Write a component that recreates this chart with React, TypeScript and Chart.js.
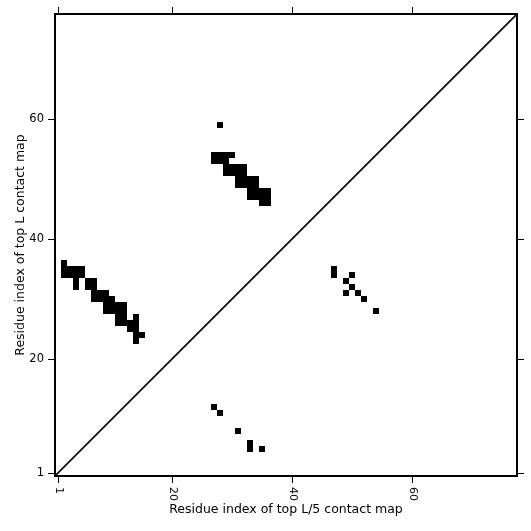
import React, { useEffect, useRef } from "react";
import { Chart, registerables } from "chart.js";

Chart.register(...registerables);

// Residue index range (1..L)
const residueCount = 77;
const tickValues = [1, 20, 40, 60];
const tickLabels = ["1", "20", "40", "60"];

const xTitle = "Residue index of top L/5 contact map";
const yTitle = "Residue index of top L contact map";

// Contacts above the diagonal (top L contact map): [x, y]
const topLContacts: [number, number][] = [
  [2, 36],
  [2, 35], [3, 35], [4, 35], [5, 35],
  [2, 34], [3, 34], [4, 34], [5, 34],
  [4, 33], [6, 33], [7, 33],
  [4, 32], [6, 32], [7, 32],
  [7, 31], [8, 31], [9, 31],
  [7, 30], [8, 30], [9, 30], [10, 30],
  [9, 29], [10, 29], [11, 29], [12, 29],
  [9, 28], [10, 28], [11, 28], [12, 28],
  [11, 27], [12, 27], [14, 27],
  [11, 26], [12, 26], [13, 26], [14, 26],
  [13, 25], [14, 25],
  [14, 24], [15, 24],
  [14, 23],
  [28, 59],
  [27, 54], [28, 54], [29, 54], [30, 54],
  [27, 53], [28, 53], [29, 53],
  [29, 52], [30, 52], [31, 52], [32, 52],
  [29, 51], [30, 51], [31, 51], [32, 51],
  [31, 50], [32, 50], [33, 50], [34, 50],
  [31, 49], [32, 49], [33, 49], [34, 49],
  [33, 48], [34, 48], [35, 48], [36, 48],
  [33, 47], [34, 47], [35, 47], [36, 47],
  [35, 46], [36, 46],
];

// Contacts below the diagonal (top L/5 contact map): [x, y]
const topL5Contacts: [number, number][] = [
  [47, 35], [47, 34], [50, 34], [49, 33], [50, 32],
  [49, 31], [51, 31], [52, 30], [54, 28],
  [27, 12], [28, 11], [31, 8], [33, 6], [33, 5], [35, 5],
];

const FONT = "'DejaVu Sans', 'Liberation Sans', sans-serif";

export default function App() {
  const ref = useRef<HTMLCanvasElement | null>(null);

  useEffect(() => {
    document.body.style.margin = "0";
    const canvas = ref.current;
    if (!canvas) return;

    const cellRadius = (ctx: any) => {
      const s = ctx.chart.scales.x;
      if (!s) return 4;
      return Math.abs(s.getPixelForValue(1) - s.getPixelForValue(0)) / Math.SQRT2;
    };

    const setTicks = (scale: any) => {
      scale.ticks = tickValues.map((v) => ({ value: v }));
    };

    const lo = 0.5;
    const hi = residueCount + 0.5;

    const rotatedXLabels = {
      id: "rotatedXLabels",
      afterDraw(chart: any) {
        const c = chart.ctx;
        const s = chart.scales.x;
        c.save();
        c.fillStyle = "#000";
        c.font = `11px ${FONT}`;
        c.textAlign = "left";
        c.textBaseline = "middle";
        tickValues.forEach((v, k) => {
          const px = s.getPixelForValue(v);
          c.save();
          c.translate(px + 1, chart.chartArea.bottom + 11);
          c.rotate(Math.PI / 2);
          c.fillText(tickLabels[k], 0, 0);
          c.restore();
        });
        c.restore();
      },
    };

    const gridOpts = {
      drawOnChartArea: false,
      drawTicks: true,
      tickLength: 7,
      color: "#000",
      lineWidth: 1,
    };
    const borderOpts = { display: true, color: "#000", width: 2 };

    const chart = new Chart(canvas, {
      type: "scatter",
      data: {
        datasets: [
          {
            type: "line",
            data: [
              { x: lo, y: lo },
              { x: hi, y: hi },
            ],
            borderColor: "#000",
            borderWidth: 1.6,
            pointRadius: 0,
            fill: false,
          } as any,
          {
            data: topLContacts.map(([x, y]) => ({ x, y })),
            pointStyle: "rect",
            backgroundColor: "#000",
            borderWidth: 0,
            radius: cellRadius,
            hoverRadius: cellRadius,
          } as any,
          {
            data: topL5Contacts.map(([x, y]) => ({ x, y })),
            pointStyle: "rect",
            backgroundColor: "#000",
            borderWidth: 0,
            radius: cellRadius,
            hoverRadius: cellRadius,
          } as any,
        ],
      },
      options: {
        responsive: false,
        animation: false,
        events: [],
        layout: { padding: 0 },
        plugins: {
          legend: { display: false },
          tooltip: { enabled: false },
        },
        scales: {
          x: {
            type: "linear",
            position: "bottom",
            min: lo,
            max: hi,
            afterBuildTicks: setTicks,
            afterFit: (s: any) => {
              s.height = 55;
            },
            ticks: { display: false },
            grid: gridOpts,
            border: borderOpts,
            title: {
              display: true,
              text: xTitle,
              color: "#000",
              font: { family: FONT, size: 12.5 },
              padding: { top: 0, bottom: 14 },
            },
          },
          x2: {
            type: "linear",
            position: "top",
            min: lo,
            max: hi,
            afterBuildTicks: setTicks,
            afterFit: (s: any) => {
              s.height = 14;
            },
            ticks: { display: false },
            grid: gridOpts,
            border: borderOpts,
          },
          y: {
            type: "linear",
            position: "left",
            min: lo,
            max: hi,
            afterBuildTicks: setTicks,
            afterFit: (s: any) => {
              s.width = 55;
            },
            ticks: {
              color: "#000",
              padding: 4,
              font: { family: FONT, size: 11.5 },
              callback: (v: any) => {
                const k = tickValues.indexOf(Number(v));
                return k >= 0 ? tickLabels[k] : "";
              },
            },
            grid: gridOpts,
            border: borderOpts,
            title: {
              display: true,
              text: yTitle,
              color: "#000",
              font: { family: FONT, size: 12.5 },
              padding: { top: 13, bottom: 0 },
            },
          },
          y2: {
            type: "linear",
            position: "right",
            min: lo,
            max: hi,
            afterBuildTicks: setTicks,
            afterFit: (s: any) => {
              s.width = 14;
            },
            ticks: { display: false },
            grid: gridOpts,
            border: borderOpts,
          },
        },
      },
      plugins: [rotatedXLabels],
    });

    return () => chart.destroy();
  }, []);

  return (
    <div style={{ width: 531, height: 531 }}>
      <canvas ref={ref} width={531} height={531} style={{ display: "block" }} />
    </div>
  );
}
